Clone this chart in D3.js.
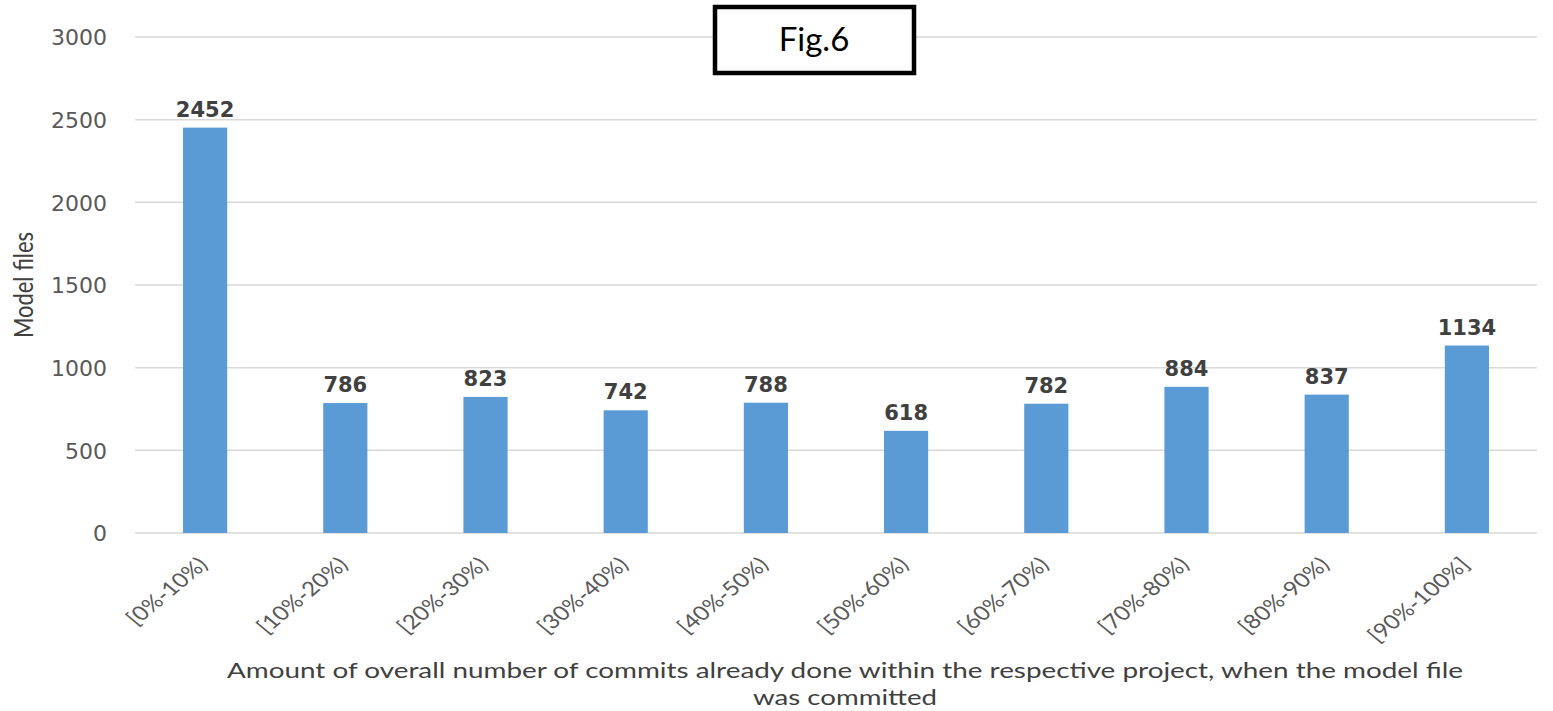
<!DOCTYPE html>
<html><head><meta charset="utf-8">
<script src="https://cdn.jsdelivr.net/npm/d3@7"></script>
<style>body{margin:0;background:#fff}svg{display:block}</style>
</head><body>
<svg id="c" width="1553" height="711"></svg>
<script>
const categories = ["[0%-10%)","[10%-20%)","[20%-30%)","[30%-40%)","[40%-50%)","[50%-60%)","[60%-70%)","[70%-80%)","[80%-90%)","[90%-100%]"];
const values = [2452,786,823,742,788,618,782,884,837,1134];
const yTicks = [0,500,1000,1500,2000,2500,3000];
const yTitle = "Model files";
const xTitleLines = ["Amount of overall number of commits already done within the respective project, when the model file","was committed"];
const figLabel = "Fig.6";

const svg = d3.select("#c");
const pLeft = 135, pRight = 1537, pTop = 37, pBottom = 533;
const x = d3.scaleBand().domain(categories).range([pLeft, pRight]).paddingInner(0.685).paddingOuter(0.3425);
const y = d3.scaleLinear().domain([0, 3000]).range([pBottom, pTop]);
const calib = "'Lato','Liberation Sans Narrow',sans-serif";
const font = "'DejaVu Sans','Open Sans',sans-serif";
const stretch = 1.2;

// gridlines
svg.append("g").selectAll("line").data(yTicks).join("line")
  .attr("x1", pLeft).attr("x2", pRight)
  .attr("y1", d => y(d)).attr("y2", d => y(d))
  .attr("stroke", "#d9d9d9").attr("stroke-width", 1.5);

// y axis labels
const yAxis = d3.axisLeft(y).tickValues(yTicks).tickSize(0).tickPadding(0).tickFormat(d3.format("d"));
const ya = svg.append("g").attr("transform", `translate(107,0)`).call(yAxis);
ya.select(".domain").remove();
ya.selectAll("text").attr("font-family", font).attr("font-size", 22).attr("fill", "#595959").attr("dy", "0.36em");

// bars
svg.append("g").selectAll("rect").data(values).join("rect")
  .attr("x", (d, i) => x(categories[i])).attr("width", x.bandwidth())
  .attr("y", d => y(d)).attr("height", d => y(0) - y(d))
  .attr("fill", "#5b9bd5");

// data labels
svg.append("g").selectAll("text").data(values).join("text")
  .attr("x", (d, i) => x(categories[i]) + x.bandwidth() / 2)
  .attr("y", d => y(d) - 11)
  .attr("text-anchor", "middle")
  .attr("font-family", font).attr("font-size", 21).attr("font-weight", "bold").attr("fill", "#404040")
  .text(d => d);

// x axis labels
const xAxis = d3.axisBottom(x).tickSize(0).tickPadding(0);
const xa = svg.append("g").attr("transform", `translate(0,${pBottom})`).call(xAxis);
xa.select(".domain").remove();
xa.selectAll(".tick text")
  .attr("font-family", calib).attr("font-size", 20).attr("fill", "#595959")
  .attr("text-anchor", "end").attr("y", 0).attr("dy", "0")
  .attr("transform", `translate(4,33) scale(${stretch},1) rotate(-45)`);

// y title
svg.append("text").attr("transform", `translate(33,285) scale(1.25,1) rotate(-90)`)
  .attr("text-anchor", "middle").attr("font-family", calib).attr("font-size", 22).attr("fill", "#404040")
  .text(yTitle);

// x title
const titleWidths = [1236, 184];
svg.append("g").selectAll("text").data(xTitleLines).join("text")
  .attr("x", 845).attr("y", (d, i) => 678 + i * 27)
  .attr("text-anchor", "middle").attr("font-family", calib).attr("font-size", 21).attr("fill", "#404040")
  .attr("textLength", (d, i) => titleWidths[i]).attr("lengthAdjust", "spacingAndGlyphs")
  .text(d => d);

// Fig box
svg.append("rect").attr("x", 715).attr("y", 7).attr("width", 199).attr("height", 66)
  .attr("fill", "#fff").attr("stroke", "#000").attr("stroke-width", 4.5);
svg.append("text").attr("x", 814).attr("y", 51).attr("text-anchor", "middle")
  .attr("font-family", calib).attr("font-size", 33).attr("fill", "#000").text(figLabel);
</script>
</body></html>
